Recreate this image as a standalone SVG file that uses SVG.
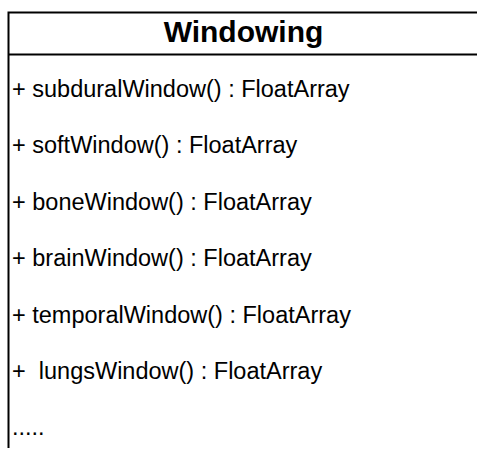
<svg xmlns="http://www.w3.org/2000/svg" width="477" height="450" viewBox="0 0 477 450">
<style>
.m{font-family:"Liberation Sans",Arial,sans-serif;font-size:23.5px;fill:#000;white-space:pre}
.t{font-family:"Liberation Sans",Arial,sans-serif;font-size:30px;font-weight:bold;fill:#000}
.b{fill:none;stroke:#000;stroke-width:2}
</style>
<rect width="477" height="450" fill="#fff"/>
<g id="Windowing">
<path class="b" d="M480,12.5 H8.5 V448"/>
<path class="b" d="M8.5,54.5 H480"/>
<text class="t" x="243.5" y="42" text-anchor="middle">Windowing</text>
<text class="m" x="12" y="96.5">+ subduralWindow() : FloatArray</text>
<text class="m" x="12" y="153">+ softWindow() : FloatArray</text>
<text class="m" x="12" y="209.5">+ boneWindow() : FloatArray</text>
<text class="m" x="12" y="266">+ brainWindow() : FloatArray</text>
<text class="m" x="12" y="322.5">+ temporalWindow() : FloatArray</text>
<text class="m" x="12" y="379" xml:space="preserve">+  lungsWindow() : FloatArray</text>
<text class="m" x="12" y="435">.....</text>
</g>
</svg>
